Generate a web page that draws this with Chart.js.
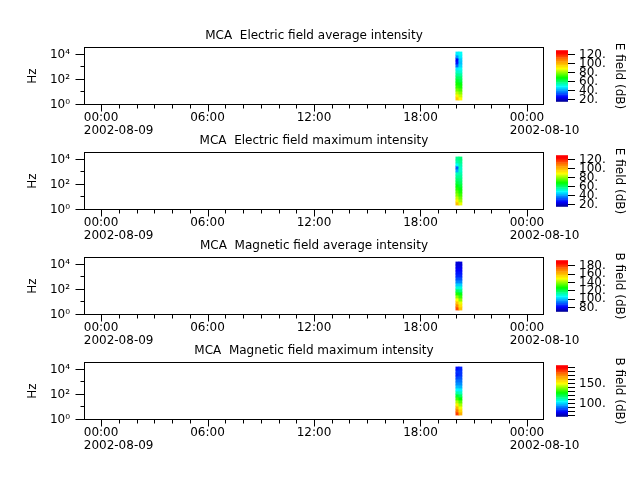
<!DOCTYPE html>
<html><head><meta charset="utf-8">
<script src="https://cdn.jsdelivr.net/npm/chart.js@4/dist/chart.umd.min.js"></script>
<style>
html,body{margin:0;padding:0;background:#fff;}
#wrap{position:relative;width:640px;height:480px;overflow:hidden;background:#fff;}
#wrap canvas{position:absolute;}
</style></head><body><div id="wrap"></div>
<script>
// ---------------- data ----------------
const panelTitles = [
  'MCA  Electric field average intensity',
  'MCA  Electric field maximum intensity',
  'MCA  Magnetic field average intensity',
  'MCA  Magnetic field maximum intensity'
];
const colorbarTitles = ['E field (dB)', 'E field (dB)', 'B field (dB)', 'B field (dB)'];

// time axis in hours from 2002-08-09 00:00
const timeMin = -0.96, timeMax = 24.96;
const timeCenters = [20.08, 20.25];          // two spectrum columns
const xTickHours = [0, 6, 12, 18, 24];
const xTickLabels = [['00:00', '2002-08-09'], '06:00', '12:00', '18:00', ['00:00', '2002-08-10']];

// frequency axis (Hz), log
const freqMin = 1, freqMax = 43650;
const freqEdges = [2.5, 4.4, 7.6, 13, 23, 40, 69, 120, 209, 363, 631, 1096, 1905, 3311, 5754, 10000, 17378];
const yTickValues = [1, 100, 10000];
const yTickLabels = ['10\u2070', '10\u00B2', '10\u2074'];

// dB values per frequency bin (low -> high), for each time column
const eAvgCol0 = [98, 92, 84, 78, 73, 70, 66, 62, 58, 54, 48, 36, 28, 26, 40, 48];
const eAvgCol1 = [90, 85, 80, 75, 71, 68, 64, 61, 57, 53, 50, 46, 44, 45, 48, 50];
const eMaxCol0 = [100, 92, 85, 80, 76, 72, 68, 64, 61, 58, 55, 42, 35, 50, 56, 58];
const eMaxCol1 = [88, 82, 78, 74, 71, 68, 65, 62, 60, 58, 56, 54, 54, 56, 58, 60];
const bAvgCol0 = [178, 170, 160, 150, 140, 130, 120, 110, 102, 95, 90, 86, 84, 82, 80, 78];
const bAvgCol1 = [160, 155, 148, 140, 133, 126, 118, 110, 102, 95, 90, 86, 84, 82, 80, 78];
const bMaxCol0 = [182, 174, 164, 154, 144, 134, 124, 114, 106, 100, 95, 92, 88, 84, 86, 82];
const bMaxCol1 = [165, 158, 150, 143, 136, 128, 120, 112, 105, 99, 95, 92, 89, 86, 86, 84];
const panelColumns = [[eAvgCol0, eAvgCol1], [eMaxCol0, eMaxCol1], [bAvgCol0, bAvgCol1], [bMaxCol0, bMaxCol1]];

// colour bar ranges and ticks
const cbMin = [15, 15, 70, 68];
const cbMax = [130, 130, 193, 196];
const cbTicks = [
  [20, 40, 60, 80, 100, 120],
  [20, 40, 60, 80, 100, 120],
  [80, 100, 120, 140, 160, 180],
  [70, 80, 90, 100, 110, 120, 130, 140, 150, 160, 170, 180, 190]
];
const cbLabeled = [
  [20, 40, 60, 80, 100, 120],
  [20, 40, 60, 80, 100, 120],
  [80, 100, 120, 140, 160, 180],
  [100, 150]
];

// ---------------- styling / layout ----------------
Chart.defaults.font.family = "'DejaVu Sans', sans-serif";
Chart.defaults.color = '#000';
const panelTops = [47, 152, 257, 362];
const boxH = 58;
const FONT = 12;

const stops = [
  [0.00, 0, 0, 140], [0.10, 0, 0, 255], [0.30, 0, 255, 255], [0.47, 0, 255, 0],
  [0.65, 255, 255, 0], [0.82, 255, 130, 0], [0.95, 255, 0, 0], [1.00, 255, 0, 0]
];
function cmap(t) {
  t = Math.max(0, Math.min(1, t));
  for (let k = 1; k < stops.length; k++) {
    if (t <= stops[k][0]) {
      const a = stops[k - 1], b = stops[k];
      const f = (t - a[0]) / (b[0] - a[0]);
      const c = [1, 2, 3].map(j => Math.round(a[j] + (b[j] - a[j]) * f));
      return `rgb(${c[0]},${c[1]},${c[2]})`;
    }
  }
  return 'rgb(255,0,0)';
}

const wrap = document.getElementById('wrap');
function makeCanvas(left, top, w, h) {
  const c = document.createElement('canvas');
  c.width = w; c.height = h;
  c.style.left = left + 'px'; c.style.top = top + 'px';
  c.style.width = w + 'px'; c.style.height = h + 'px';
  wrap.appendChild(c);
  return c;
}

const mctx = document.createElement('canvas').getContext('2d');
mctx.font = FONT + "px 'DejaVu Sans'";
const halfLabel = mctx.measureText('00:00').width / 2;

const framePlugin = {
  id: 'frame',
  afterDraw(chart) {
    const { ctx, chartArea: a, scales: { x, y } } = chart;
    ctx.save();
    ctx.strokeStyle = '#000';
    ctx.lineWidth = 1;
    const L = Math.round(a.left) + 0.5, R = Math.round(a.right) - 0.5;
    const T = Math.round(a.top) + 0.5, B = Math.round(a.bottom) - 0.5;
    ctx.strokeRect(L, T, R - L, B - T);
    ctx.beginPath();
    for (let h = Math.ceil(x.min); h <= Math.floor(x.max); h++) {
      const px = Math.round(x.getPixelForValue(h)) + 0.5;
      const len = (h % 6 === 0) ? 7 : 4;
      ctx.moveTo(px, B); ctx.lineTo(px, B + len);
    }
    for (let d = 0; d <= 4; d++) {
      const py = Math.round(y.getPixelForValue(Math.pow(10, d))) - 0.5;
      const len = (d % 2 === 0) ? 9 : 4;
      ctx.moveTo(L, py); ctx.lineTo(L - len, py);
    }
    ctx.stroke();
    ctx.restore();
  }
};

panelTops.forEach((boxTop, p) => {
  const titleBlock = 22, xBlock = 40;
  const cv = makeCanvas(0, boxTop - titleBlock, 628, titleBlock + boxH + xBlock);
  const range = [cbMin[p], cbMax[p]];
  const cells = [];
  panelColumns[p].forEach((col, j) => {
    col.forEach((v, i) => {
      cells.push({ x: timeCenters[j], y: [freqEdges[i], freqEdges[i + 1]], v: v });
    });
  });
  new Chart(cv, {
    type: 'bar',
    data: {
      datasets: [{
        data: cells,
        backgroundColor: c => cmap((c.raw.v - range[0]) / (range[1] - range[0])),
        borderWidth: 0,
        barPercentage: 1,
        categoryPercentage: 1,
        inflateAmount: 0.4
      }]
    },
    options: {
      responsive: false,
      animation: false,
      events: [],
      layout: { padding: { left: 0, right: 84, top: 0, bottom: 0 } },
      plugins: {
        legend: { display: false },
        tooltip: { enabled: false },
        title: {
          display: true,
          fullSize: false,
          text: panelTitles[p],
          font: { size: FONT, weight: 'normal', lineHeight: '14px' },
          padding: { top: 4, bottom: 4 },
          color: '#000'
        }
      },
      scales: {
        x: {
          type: 'linear',
          offset: false,
          bounds: 'data',
          min: timeMin,
          max: timeMax,
          grid: { display: false, drawTicks: false },
          border: { display: false },
          afterBuildTicks: s => { s.ticks = xTickHours.map(v => ({ value: v })); },
          afterFit: s => { s.height = xBlock; },
          ticks: {
            autoSkip: false,
            maxRotation: 0,
            minRotation: 0,
            align: 'start',
            labelOffset: -halfLabel,
            padding: 6,
            font: { size: FONT, lineHeight: 1.1 },
            callback: (v) => { const k = xTickHours.indexOf(v); return k >= 0 ? xTickLabels[k] : ''; }
          }
        },
        y: {
          type: 'logarithmic',
          min: freqMin,
          max: freqMax,
          grid: { display: false, drawTicks: false },
          border: { display: false },
          afterBuildTicks: s => { s.ticks = yTickValues.map(v => ({ value: v })); },
          afterFit: s => { s.width = 84; },
          title: { display: true, text: 'Hz', font: { size: FONT }, padding: { top: 26, bottom: 0 } },
          ticks: {
            autoSkip: false,
            padding: 14,
            font: { size: FONT },
            callback: (v) => { const k = yTickValues.indexOf(v); return k >= 0 ? yTickLabels[k] : ''; }
          }
        }
      }
    },
    plugins: [framePlugin]
  });

  // colour bar
  const cbTopPad = 10, cbBotPad = 8;
  const cbc = makeCanvas(540, boxTop + 2 - cbTopPad, 100, (boxH - 2) + cbTopPad + cbBotPad);
  const nSeg = 64;
  const segs = [];
  const step = (cbMax[p] - cbMin[p]) / nSeg;
  for (let k = 0; k < nSeg; k++) {
    const lo = cbMin[p] + k * step;
    segs.push({ x: 'cb', y: [lo, lo + step * 1.02], t: (k + 0.5) / nSeg });
  }
  new Chart(cbc, {
    type: 'bar',
    data: {
      labels: ['cb'],
      datasets: [{
        data: segs,
        backgroundColor: c => cmap(c.raw.t),
        borderWidth: 0,
        barPercentage: 1,
        categoryPercentage: 1,
        inflateAmount: 0.3
      }]
    },
    options: {
      responsive: false,
      animation: false,
      events: [],
      layout: { padding: { left: 16, right: 0, top: cbTopPad, bottom: cbBotPad } },
      plugins: { legend: { display: false }, tooltip: { enabled: false }, title: { display: false } },
      scales: {
        x: { display: false },
        y: {
          position: 'right',
          min: cbMin[p],
          max: cbMax[p],
          bounds: 'data',
          grid: { display: true, drawOnChartArea: false, drawTicks: true, tickLength: 7, tickColor: '#000', color: '#000' },
          border: { display: false },
          afterBuildTicks: s => { s.ticks = cbTicks[p].map(v => ({ value: v })); },
          afterFit: s => { s.width = 72; },
          title: { display: true, text: colorbarTitles[p], font: { size: FONT }, padding: { top: 14, bottom: 0 } },
          ticks: {
            autoSkip: false,
            padding: 4,
            font: { size: FONT },
            callback: (v) => cbLabeled[p].indexOf(v) >= 0 ? v + '.' : ''
          }
        }
      }
    }
  });
});
</script>
</body></html>
